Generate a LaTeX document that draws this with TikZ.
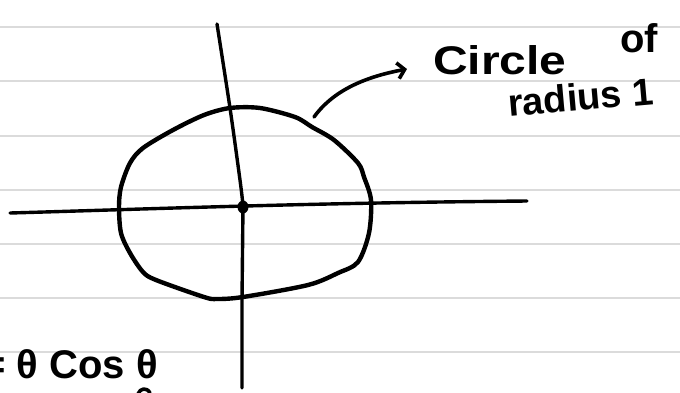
\documentclass[tikz,border=0pt]{standalone}
\usepackage{fontspec}
\setmainfont{Liberation Sans}
\usetikzlibrary{arrows.meta}
\begin{document}
\begin{tikzpicture}[x=1pt,y=-1pt,
  rule/.style={draw=black!14,line width=1.8pt},
  ink/.style={draw=black,line width=3.6pt,line cap=round,line join=round},
  hand/.style={font=\bfseries\fontsize{40}{40}\selectfont,inner sep=0pt,text=black}]
\useasboundingbox (0,0) rectangle (680,392);
\clip (0,0) rectangle (680,392);
\fill[white] (0,0) rectangle (680,392);
% ruled paper
\foreach \yy in {27,81,136,190,244,298,352}
  \draw[rule] (0,\yy) -- (680,\yy);
% circle of radius 1
\draw[ink,line width=4.4pt] plot[smooth cycle,tension=0.5] coordinates {
 (230,108) (260,108) (295,117) (312,127) (334,140) (358,163) (364,177) (371,200)
 (369,233) (358,262) (338,273) (308,285) (243,297) (217,299) (204,297)
 (156,280) (143,272) (130,253) (121,233) (119,207) (121,187) (130,163)
 (143,148) (173,130) (204,115)};
% axes
\coordinate (hl) at (10,213);
\coordinate (hr) at (527,201);
\coordinate (vt) at (217,24);
\coordinate (vb) at (242,388);
\draw[ink,line width=3.4pt] (hl) .. controls (150,209) and (300,203) .. (hr);
\draw[ink,line width=3.4pt] plot[smooth,tension=0.5] coordinates {(217,24) (230,108) (240,180) (243,205)} -- (242,300) -- (vb);
% origin dot
\fill (243,207) ellipse[x radius=5.5pt,y radius=6.5pt];
% labels
\node[hand,anchor=base west] (circ) at (433,74) {\scalebox{1.2}[1]{Circle}};
\node[hand,anchor=base west] (of) at (620,52) {of};
\node[hand,anchor=base west,rotate=5,font=\bfseries\fontsize{38}{38}\selectfont] (rad) at (509,117) {radius 1};
\node[hand,anchor=base east] (eq) at (158,378) {= θ Cos θ};
% arrow
\coordinate (as) at (314,117);
\coordinate (ae) at (407,69);
\draw[ink,-{Straight Barb[length=7pt,width=16pt,line width=3.6pt]}] (as) .. controls (335,88) and (370,76) .. (ae);
% partial stroke at the bottom edge
\draw[ink] (138,394) .. controls (140,388) and (147,387) .. (150,393);
\end{tikzpicture}
\end{document}
